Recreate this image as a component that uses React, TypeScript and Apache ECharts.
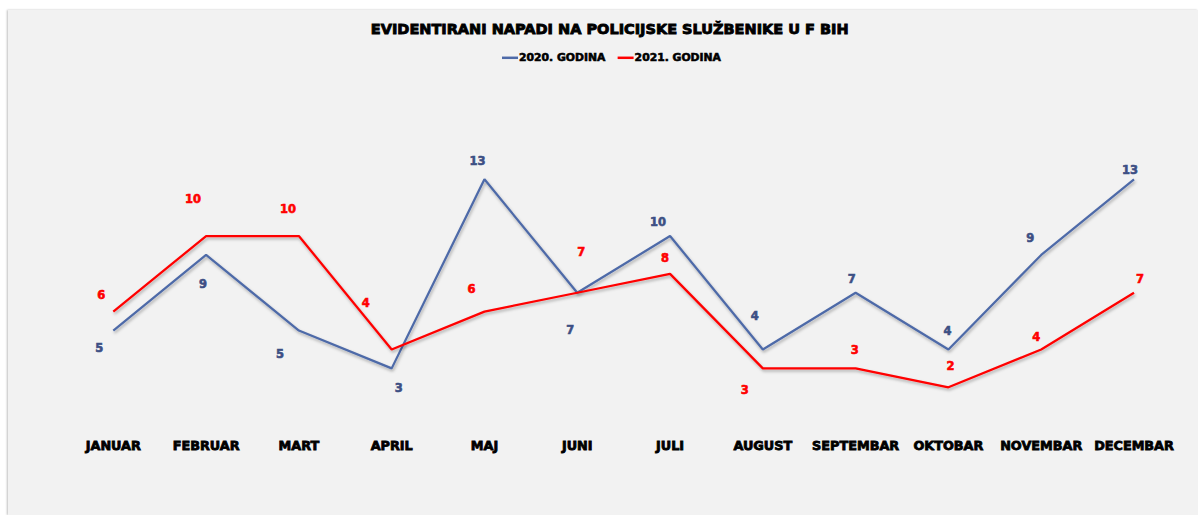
import React, { useEffect, useRef } from "react";
import * as echarts from "echarts";

const TITLE = "EVIDENTIRANI NAPADI NA POLICIJSKE SLUŽBENIKE U F BIH";
const months = [
  "JANUAR", "FEBRUAR", "MART", "APRIL", "MAJ", "JUNI",
  "JULI", "AUGUST", "SEPTEMBAR", "OKTOBAR", "NOVEMBAR", "DECEMBAR",
];
const seriesNames = ["2020. GODINA", "2021. GODINA"];
const values2020 = [5, 9, 5, 3, 13, 7, 10, 4, 7, 4, 9, 13];
const values2021 = [6, 10, 10, 4, 6, 7, 8, 3, 3, 2, 4, 7];

// label offsets (px) relative to each point, as placed in the reference
const labelOffsets2020: [number, number][] = [
  [-14, 17], [-3, 29], [-19, 23], [7, 20], [-7, -18], [-7, 37],
  [-12, -14], [-8, -33], [-4, -14], [-1, -18], [-11, -17], [-4, -9],
];
const labelOffsets2021: [number, number][] = [
  [-12, -17], [-13, -37], [-11, -27], [-26, -46], [-13, -23], [4, -41],
  [-5, -16], [-18, 22], [-1, -18], [2, -21], [-5, -12], [6, -14],
];

const BLUE_LINE = "#4e6aa8";
const BLUE_LABEL = "#3d4f84";
const RED = "#ff0000";
const FONT = "'DejaVu Sans', 'Liberation Sans', sans-serif";

export default function App() {
  const ref = useRef<HTMLDivElement>(null);
  useEffect(() => {
    if (!ref.current) return;
    const chart = echarts.init(ref.current, undefined, { renderer: "svg" });
    const mkSeries = (
      name: string,
      vals: number[],
      offs: [number, number][],
      lineColor: string,
      labelColor: string
    ) => ({
      name,
      type: "line",
      color: lineColor,
      symbol: "circle",
      symbolSize: 0,
      showSymbol: true,
      lineStyle: {
        color: lineColor,
        width: 2.25,
        shadowColor: "rgba(0,0,0,0.3)",
        shadowBlur: 3,
        shadowOffsetX: 1,
        shadowOffsetY: 2,
      },
      emphasis: { disabled: true },
      label: {
        show: true,
        position: "inside",
        color: labelColor,
        fontFamily: FONT,
        fontWeight: "bold",
        fontSize: 11.5,
        textBorderColor: labelColor,
        textBorderWidth: 0.6,
      },
      data: vals.map((v, i) => ({ value: v, label: { offset: offs[i] } })),
    });
    chart.setOption({
      animation: false,
      backgroundColor: "#f2f2f2",
      graphic: [
        {
          type: "text",
          x: 601.7,
          y: 18.5,
          style: {
            text: TITLE,
            align: "center",
            verticalAlign: "middle",
            fill: "#000",
            stroke: "#000",
            lineWidth: 0.9,
            font: `bold 14.5px ${FONT}`,
          },
        },
      ],
      legend: {
        left: 489,
        top: 37,
        icon: "rect",
        itemWidth: 16,
        itemHeight: 2.5,
        itemGap: 12,
        data: seriesNames,
        textStyle: {
          color: "#000",
          fontFamily: FONT,
          fontWeight: "bold",
          fontSize: 10.8,
          textBorderColor: "#000",
          textBorderWidth: 0.6,
          padding: [0, 0, 0, -4],
        },
      },
      grid: { left: 58.9, top: 150.4, width: 1113.5, height: 264.7, containLabel: false },
      xAxis: {
        type: "category",
        data: months,
        boundaryGap: true,
        axisLine: { show: false },
        axisTick: { show: false },
        axisLabel: {
          interval: 0,
          margin: 14,
          color: "#000",
          fontFamily: FONT,
          fontWeight: "bold",
          fontSize: 12.8,
          textBorderColor: "#000",
          textBorderWidth: 0.8,
        },
      },
      yAxis: {
        type: "value",
        min: 0,
        max: 14,
        show: false,
        splitLine: { show: false },
      },
      series: [
        mkSeries(seriesNames[0], values2020, labelOffsets2020, BLUE_LINE, BLUE_LABEL),
        mkSeries(seriesNames[1], values2021, labelOffsets2021, RED, RED),
      ],
    });
    return () => chart.dispose();
  }, []);
  return (
    <div
      ref={ref}
      style={{
        position: "fixed",
        left: 8,
        top: 10,
        width: 1190,
        height: 505,
        background: "#f2f2f2",
        boxShadow: "-1px 0 2px rgba(0,0,0,0.25)",
      }}
    />
  );
}
